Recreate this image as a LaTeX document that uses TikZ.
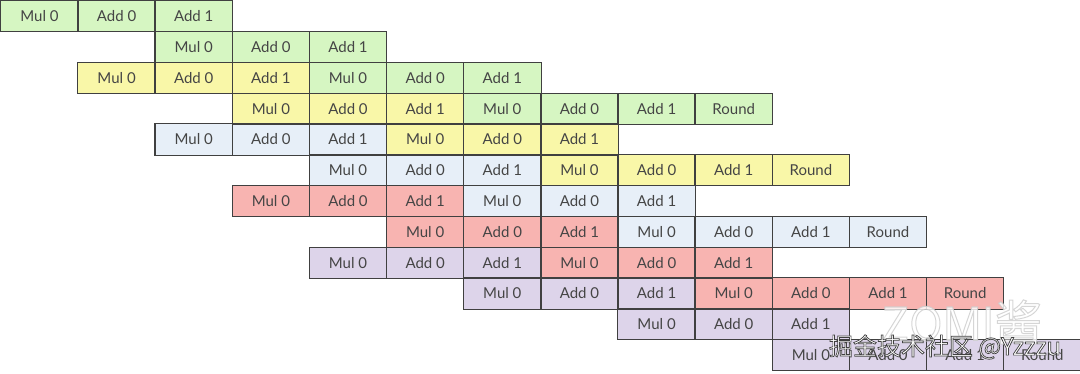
\documentclass[tikz,border=0pt]{standalone}
\usepackage{fontspec}
\setmainfont{Lato}
\newfontfamily\cjk{Noto Sans CJK SC}
\definecolor{gr}{HTML}{D6F6C2}
\definecolor{ye}{HTML}{F9F7A8}
\definecolor{bl}{HTML}{E7EFF8}
\definecolor{re}{HTML}{F8B4B1}
\definecolor{pu}{HTML}{DDD4EA}
\definecolor{bordergray}{HTML}{404040}
\definecolor{textgray}{HTML}{454545}
\newcommand\outlinedark[1]{\special{pdf:literal direct 0.25 0.25 0.25 RG 0.7 w 2 Tr}#1\special{pdf:literal direct 0 Tr}}
\newcommand\outlinelight[1]{\special{pdf:literal direct 0.8 0.8 0.8 RG 1 w 2 Tr}#1\special{pdf:literal direct 0 Tr}}
\tikzset{
  cell/.style={minimum width=77.14pt, minimum height=30.8pt, inner sep=0pt,
    anchor=north west, font=\fontsize{15}{17}\selectfont, text=textgray},
  cellborder/.style={draw=bordergray, line width=1.1pt},
  wmz/.style={font=\fontsize{48}{50}\selectfont\sffamily, text=white, inner sep=0pt},
  wmj/.style={font=\cjk\fontsize{24}{26}\selectfont, text=white, inner sep=0pt}
}
\newif\ifborderpass
\newcommand\trip[3]{%
  \foreach \k/\t in {0/{Mul 0},1/{Add 0},2/{Add 1}}{%
    \pgfmathtruncatemacro\cc{#2+\k}%
    \ifborderpass
      \draw[cellborder] (c#1-\cc.north west) rectangle (c#1-\cc.south east);
    \else
      \node[cell, fill=#3] (c#1-\cc) at ({0.7+\cc*77.14},{-0.7-#1*30.8}) {\t};
    \fi
  }}
\newcommand\rnd[3]{%
  \ifborderpass
    \draw[cellborder] (c#1-#2.north west) rectangle (c#1-#2.south east);
  \else
    \node[cell, fill=#3] (c#1-#2) at ({0.7+#2*77.14},{-0.7-#1*30.8}) {Round};
  \fi}
\newcommand\allcells{%
\trip{0}{0}{gr}
\trip{1}{2}{gr}
\trip{2}{1}{ye}\trip{2}{4}{gr}
\trip{3}{3}{ye}\trip{3}{6}{gr}\rnd{3}{9}{gr}
\trip{4}{2}{bl}\trip{4}{5}{ye}
\trip{5}{4}{bl}\trip{5}{7}{ye}\rnd{5}{10}{ye}
\trip{6}{3}{re}\trip{6}{6}{bl}
\trip{7}{5}{re}\trip{7}{8}{bl}\rnd{7}{11}{bl}
\trip{8}{4}{pu}\trip{8}{7}{re}
\trip{9}{6}{pu}\trip{9}{9}{re}\rnd{9}{12}{re}
\trip{10}{8}{pu}
\trip{11}{10}{pu}\rnd{11}{13}{pu}}
\begin{document}
\begin{tikzpicture}[x=1pt,y=1pt]
\useasboundingbox (0,0) rectangle (1080,-374);
\borderpassfalse
\allcells
\borderpasstrue
\allcells
% watermark
\node[wmz, opacity=0.8] (wmzomi) at (962,-322) {\outlinelight{ZOMI{\cjk 酱}}};
\node[wmj] (wmjj) at (945,-347) {\outlinedark{掘金技术社区 @Yzzzu}};
\end{tikzpicture}
\end{document}
